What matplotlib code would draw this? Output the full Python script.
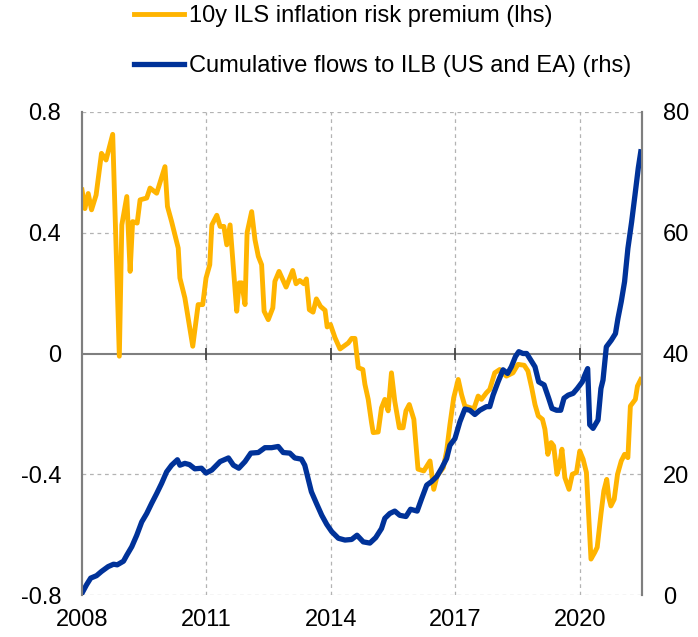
import numpy as np
import matplotlib.pyplot as plt

plt.rcParams['font.family'] = ['Liberation Sans', 'DejaVu Sans']

# 10y ILS inflation risk premium (lhs), decimal year / value
irp_x = [2008.00, 2008.07, 2008.15, 2008.23, 2008.34, 2008.47, 2008.58, 2008.74, 2008.90, 2008.96,
         2009.08, 2009.16, 2009.22, 2009.33, 2009.40, 2009.56, 2009.64, 2009.80, 2010.00, 2010.06,
         2010.16, 2010.32, 2010.36, 2010.48, 2010.67, 2010.80, 2010.91, 2010.99, 2011.08, 2011.13,
         2011.25, 2011.33, 2011.42, 2011.49, 2011.57, 2011.73, 2011.79, 2011.85, 2011.93, 2011.98,
         2012.09, 2012.17, 2012.25, 2012.33, 2012.39, 2012.49, 2012.60, 2012.65, 2012.75, 2012.92,
         2013.08, 2013.16, 2013.25, 2013.35, 2013.41, 2013.48, 2013.57, 2013.65, 2013.75, 2013.86,
         2013.91, 2013.99, 2014.10, 2014.22, 2014.42, 2014.50, 2014.58, 2014.66, 2014.77, 2014.82,
         2014.90, 2014.98, 2015.02, 2015.14, 2015.22, 2015.30, 2015.38, 2015.46, 2015.54, 2015.65,
         2015.74, 2015.81, 2015.89, 2016.00, 2016.10, 2016.24, 2016.39, 2016.48, 2016.56, 2016.71,
         2016.79, 2016.87, 2016.96, 2017.07, 2017.15, 2017.23, 2017.37, 2017.45, 2017.55, 2017.63,
         2017.75, 2017.83, 2017.95, 2018.07, 2018.23, 2018.39, 2018.51, 2018.66, 2018.75, 2018.84,
         2018.92, 2019.00, 2019.10, 2019.16, 2019.23, 2019.31, 2019.37, 2019.45, 2019.51, 2019.57,
         2019.64, 2019.74, 2019.82, 2019.92, 2020.00, 2020.08, 2020.16, 2020.20, 2020.27, 2020.36,
         2020.42, 2020.51, 2020.58, 2020.65, 2020.70, 2020.75, 2020.83, 2020.91, 2021.00, 2021.08,
         2021.16, 2021.22, 2021.28, 2021.34, 2021.39, 2021.47]
irp_y = [0.542, 0.48, 0.53, 0.476, 0.525, 0.663, 0.641, 0.726, -0.009, 0.426,
         0.52, 0.272, 0.437, 0.432, 0.509, 0.515, 0.548, 0.531, 0.619, 0.487,
         0.437, 0.349, 0.25, 0.184, 0.024, 0.162, 0.162, 0.25, 0.294, 0.426,
         0.458, 0.421, 0.421, 0.36, 0.426, 0.14, 0.234, 0.234, 0.162, 0.40,
         0.47, 0.377, 0.322, 0.294, 0.14, 0.112, 0.151, 0.239, 0.272, 0.22,
         0.275, 0.231, 0.242, 0.231, 0.247, 0.145, 0.137, 0.181, 0.156, 0.143,
         0.088, 0.096, 0.052, 0.015, 0.035, 0.05, 0.05, -0.047, -0.053, -0.102,
         -0.152, -0.229, -0.262, -0.26, -0.18, -0.152, -0.19, -0.064, -0.158, -0.246,
         -0.246, -0.19, -0.169, -0.218, -0.383, -0.389, -0.356, -0.45, -0.406, -0.378,
         -0.323, -0.235, -0.147, -0.086, -0.136, -0.174, -0.18, -0.182, -0.141, -0.152,
         -0.13, -0.119, -0.064, -0.053, -0.075, -0.064, -0.036, -0.039, -0.058, -0.113,
         -0.169, -0.207, -0.218, -0.251, -0.334, -0.295, -0.306, -0.40, -0.372, -0.317,
         -0.411, -0.45, -0.40, -0.394, -0.323, -0.35, -0.394, -0.50, -0.681, -0.659,
         -0.642, -0.532, -0.455, -0.417, -0.477, -0.505, -0.483, -0.40, -0.356, -0.334,
         -0.345, -0.174, -0.163, -0.152, -0.108, -0.086]

# Cumulative flows to ILB (US and EA) (rhs)
flow_x = [2008.00, 2008.11, 2008.21, 2008.35, 2008.47, 2008.63, 2008.76, 2008.85, 2009.00, 2009.08,
          2009.20, 2009.32, 2009.44, 2009.56, 2009.68, 2009.80, 2009.92, 2010.04, 2010.16, 2010.30,
          2010.36, 2010.48, 2010.59, 2010.72, 2010.88, 2010.99, 2011.13, 2011.33, 2011.53, 2011.65,
          2011.78, 2011.93, 2012.07, 2012.25, 2012.41, 2012.57, 2012.73, 2012.85, 2013.01, 2013.13,
          2013.29, 2013.37, 2013.45, 2013.53, 2013.65, 2013.78, 2013.90, 2014.02, 2014.18, 2014.34,
          2014.50, 2014.63, 2014.78, 2014.94, 2015.08, 2015.22, 2015.30, 2015.42, 2015.54, 2015.66,
          2015.81, 2015.92, 2016.08, 2016.19, 2016.31, 2016.43, 2016.55, 2016.67, 2016.79, 2016.87,
          2016.99, 2017.11, 2017.23, 2017.35, 2017.47, 2017.59, 2017.75, 2017.83, 2017.91, 2018.03,
          2018.15, 2018.26, 2018.35, 2018.45, 2018.53, 2018.63, 2018.72, 2018.82, 2018.92, 2019.01,
          2019.14, 2019.25, 2019.33, 2019.44, 2019.54, 2019.62, 2019.72, 2019.84, 2019.94, 2020.06,
          2020.12, 2020.19, 2020.24, 2020.32, 2020.44, 2020.51, 2020.56, 2020.64, 2020.76, 2020.86,
          2020.92, 2021.00, 2021.08, 2021.16, 2021.25, 2021.33, 2021.41, 2021.47]
flow_y = [0.3, 1.7, 2.8, 3.2, 3.9, 4.7, 5.1, 5.0, 5.6, 6.6,
          8.0, 9.9, 12.1, 13.5, 15.2, 16.8, 18.5, 20.4, 21.5, 22.4,
          21.5, 21.8, 21.6, 20.9, 21.0, 20.2, 20.7, 22.1, 22.7, 21.5,
          21.0, 22.1, 23.5, 23.6, 24.4, 24.4, 24.6, 23.6, 23.5, 22.7,
          22.5, 21.5, 19.3, 17.1, 15.2, 13.2, 11.7, 10.5, 9.4, 9.1,
          9.2, 9.9, 8.8, 8.6, 9.5, 11.0, 12.7, 13.5, 13.9, 13.2,
          13.0, 14.2, 13.9, 16.0, 18.2, 18.8, 19.6, 21.0, 22.6, 24.8,
          25.9, 28.7, 30.8, 30.6, 29.9, 30.6, 31.2, 31.2, 33.1, 35.3,
          37.3, 36.7, 37.8, 39.5, 40.3, 40.0, 40.0, 38.9, 37.8, 35.3,
          34.8, 32.6, 30.9, 30.6, 30.6, 32.6, 33.1, 33.4, 34.2, 35.3,
          36.4, 37.5, 28.2, 27.6, 29.0, 34.2, 35.6, 41.1, 42.2, 43.3,
          45.8, 48.6, 51.9, 57.4, 61.8, 66.2, 70.7, 73.4]

year_ticks = [2008, 2011, 2014, 2017, 2020]
lhs_ticks = [-0.8, -0.4, 0, 0.4, 0.8]
rhs_ticks = [0, 20, 40, 60, 80]

yellow = '#FFB400'
blue = '#003299'
grid_c = '#b3b3b3'
axis_c = '#7f7f7f'

fig = plt.figure(figsize=(6.98, 6.37), dpi=100)
ax = fig.add_axes([82/698, 1-595/637, (642-82)/698, (595-112)/637])
ax2 = ax.twinx()

l1, = ax.plot(irp_x, irp_y, color=yellow, lw=3.5, solid_joinstyle='round',
              label='10y ILS inflation risk premium (lhs)')
l2, = ax2.plot(flow_x, flow_y, color=blue, lw=3.8, solid_joinstyle='round',
               label='Cumulative flows to ILB (US and EA) (rhs)')

ax.set_xlim(2008, 2021.5)
ax.set_ylim(-0.8, 0.8)
ax2.set_ylim(0, 80)
ax.set_xticks(year_ticks)
ax.set_yticks(lhs_ticks)
ax.set_yticklabels(['-0.8', '-0.4', '0', '0.4', '0.8'])
ax2.set_yticks(rhs_ticks)

# dashed grid, solid zero line
for v in [-0.8, -0.4, 0.4, 0.8]:
    ax.axhline(v, color=grid_c, lw=0.9, ls=(0, (3, 3)), zorder=0)
for yr in year_ticks[1:]:
    ax.axvline(yr, color=grid_c, lw=0.9, ls=(0, (3, 3)), zorder=0)
ax.axhline(0, color=axis_c, lw=1.5, zorder=1)
ax.plot(year_ticks[1:], [0] * 4, ls='none', marker='|', ms=9, mew=1.3, color='#444444', zorder=1)

for a in (ax, ax2):
    for s in ('top', 'bottom'):
        a.spines[s].set_visible(False)
    a.spines['left'].set_color(axis_c)
    a.spines['right'].set_color(axis_c)
    a.spines['left'].set_linewidth(1.5)
    a.spines['right'].set_linewidth(1.5)

ax.tick_params(axis='y', length=0, pad=15, labelsize=17)
ax2.tick_params(axis='y', length=0, pad=15, labelsize=17)
ax.tick_params(axis='x', length=0, pad=10, labelsize=17)

fig.legend(handles=[l1, l2], loc='upper left', bbox_to_anchor=(132/698, 1 - 3/637),
           frameon=False, fontsize=17, handlelength=2.1, handletextpad=0.2,
           labelspacing=1.17, borderpad=0.1, borderaxespad=0)

fig.savefig('out.png', dpi=100)
